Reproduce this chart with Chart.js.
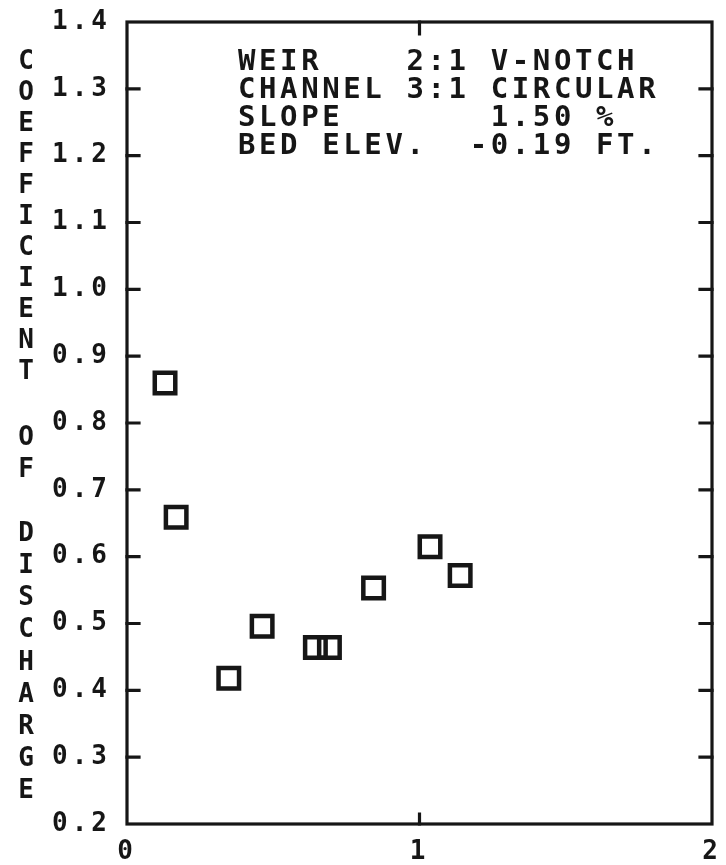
<!DOCTYPE html>
<html><head><meta charset="utf-8">
<script src="https://cdn.jsdelivr.net/npm/chart.js@4.4.1/dist/chart.umd.min.js"></script>
<style>html,body{margin:0;padding:0;background:#fff;}canvas{display:block;}</style>
</head><body>
<canvas id="c" width="726" height="865"></canvas>
<script>
// ---- data ----
const depthValues = [0.130, 0.168, 0.348, 0.462, 0.644, 0.692, 0.843, 1.036, 1.139];
const dischargeCoefficients = [0.860, 0.659, 0.418, 0.496, 0.464, 0.464, 0.553, 0.615, 0.572];
const xTickValues = [0, 1, 2];
const yTickValues = [0.2, 0.3, 0.4, 0.5, 0.6, 0.7, 0.8, 0.9, 1.0, 1.1, 1.2, 1.3, 1.4];
const yAxisTitleWords = ['COEFFICIENT', 'OF', 'DISCHARGE'];
const annotationLines = [
  'WEIR    2:1 V-NOTCH',
  'CHANNEL 3:1 CIRCULAR',
  'SLOPE       1.50 %',
  'BED ELEV.  -0.19 FT.'
];

// ---- style / layout ----
const INK = '#161616';
const FONT = "'DejaVu Sans Mono', 'Liberation Mono', monospace";
const TICK_SPACING = '4px';
const titleLayout = [ {y0: 62, step: 31}, {y0: 438, step: 32}, {y0: 534, step: 32.2} ];

const framePlugin = {
  id: 'frame',
  beforeUpdate(chart) { chart.ctx.letterSpacing = TICK_SPACING; },
  beforeDraw(chart) { chart.ctx.letterSpacing = TICK_SPACING; },
  afterDraw(chart) {
    const {ctx, chartArea: a, scales: {x, y}} = chart;
    ctx.save();
    ctx.strokeStyle = INK;
    ctx.lineWidth = 3.2;
    ctx.lineCap = 'square';
    ctx.strokeRect(a.left, a.top, a.right - a.left, a.bottom - a.top);
    ctx.beginPath();
    yTickValues.forEach(v => {
      if (v === yTickValues[0] || v === yTickValues[yTickValues.length - 1]) return;
      const py = y.getPixelForValue(v);
      ctx.moveTo(a.left, py); ctx.lineTo(a.left + 12, py);
      ctx.moveTo(a.right, py); ctx.lineTo(a.right - 12, py);
    });
    xTickValues.forEach(v => {
      if (v === xTickValues[0] || v === xTickValues[xTickValues.length - 1]) return;
      const px = x.getPixelForValue(v);
      ctx.moveTo(px, a.bottom); ctx.lineTo(px, a.bottom - 10);
      ctx.moveTo(px, a.top); ctx.lineTo(px, a.top + 12);
    });
    ctx.stroke();

    // vertical stacked y-axis title
    ctx.fillStyle = INK;
    ctx.letterSpacing = '0px';
    ctx.font = 'bold 26px ' + FONT;
    ctx.textAlign = 'center';
    ctx.textBaseline = 'middle';
    yAxisTitleWords.forEach((w, wi) => {
      const L = titleLayout[wi];
      [...w].forEach((ch, i) => ctx.fillText(ch, 26, L.y0 + i * L.step));
    });

    // annotation block
    ctx.font = 'bold 29px ' + FONT;
    ctx.letterSpacing = '3.6px';
    ctx.textAlign = 'left';
    annotationLines.forEach((t, i) => ctx.fillText(t, 238, 62 + i * 28.3));
    ctx.restore();
  }
};

const points = depthValues.map((xv, i) => ({x: xv, y: dischargeCoefficients[i]}));

new Chart(document.getElementById('c'), {
  type: 'scatter',
  data: {
    datasets: [{
      data: points,
      pointStyle: 'rect',
      pointRadius: 14.5,
      pointHoverRadius: 14.5,
      borderWidth: 4.5,
      pointBorderWidth: 4.5,
      borderColor: INK,
      backgroundColor: 'rgba(0,0,0,0)',
      showLine: false
    }]
  },
  options: {
    responsive: false,
    animation: false,
    events: [],
    layout: {autoPadding: false, padding: {left: 0, right: 14, top: 22, bottom: 0}},
    plugins: {legend: {display: false}, tooltip: {enabled: false}, title: {display: false}},
    scales: {
      x: {
        type: 'linear', min: 0, max: 2,
        grid: {display: false, drawTicks: false},
        border: {display: false},
        afterBuildTicks: s => { s.ticks = xTickValues.map(v => ({value: v})); },
        afterFit: s => { s.height = 41; s.paddingLeft = 0; s.paddingRight = 0; },
        ticks: {
          autoSkip: false, maxRotation: 0, padding: 13,
          color: INK, font: {family: FONT, size: 26, weight: 'bold'},
          callback: v => String(v)
        }
      },
      y: {
        type: 'linear', min: 0.2, max: 1.4,
        grid: {display: false, drawTicks: false},
        border: {display: false},
        afterBuildTicks: s => { s.ticks = yTickValues.map(v => ({value: v})); },
        afterFit: s => { s.width = 127; s.paddingTop = 0; s.paddingBottom = 0; },
        ticks: {
          autoSkip: false, padding: 16,
          color: INK, font: {family: FONT, size: 26, weight: 'bold'},
          callback: v => Number(v).toFixed(1)
        }
      }
    }
  },
  plugins: [framePlugin]
});
</script>
</body></html>
